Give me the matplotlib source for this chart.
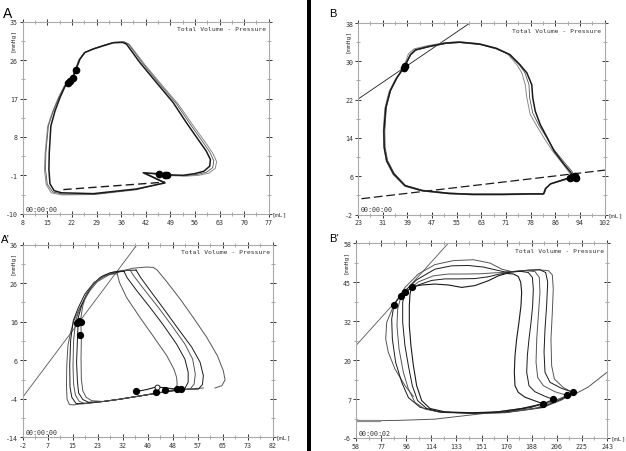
import numpy as np
import matplotlib
matplotlib.use('Agg')
import matplotlib.pyplot as plt
from matplotlib.patches import Rectangle

# ================= DATA =================
# ---- Panel A ----
a_xlim = (8, 77)
a_ylim = (-10, 35)
a_xticklabels = ['8', '15', '22', '29', '36', '42', '49', '56', '63', '70', '77']
a_yticklabels = ['-10', '-1', '8', '17', '26', '35']
a_stamp = '00:00:00'
a_loop1_v = [22.9, 24.05, 25.45, 27.8, 30.6, 33.4, 36.0, 37.1, 40.85, 45.5,
             50.2, 53.9, 57.2, 59.5, 60.65, 60.45, 58.8, 56.3, 53.0, 49.3,
             48.05, 46.3, 41.8, 47.9, 39.9, 27.8, 18.9, 16.8, 15.65, 15.35,
             15.45, 15.9, 17.05, 18.45, 19.85, 20.8, 22.0, 22.9]
a_loop1_p = [23.7, 26.2, 27.8, 28.6, 29.35, 30.06, 30.15, 29.75, 25.45, 20.75,
             16.05, 11.35, 7.4, 4.65, 2.7, 1.13, -0.05, -0.6, -1.0, -0.9,
             -0.9, -0.65, -0.4, -2.8, -4.2, -5.3, -5.1, -4.6, -3.0, 0.35,
             4.3, 10.55, 14.05, 17.2, 19.8, 20.9, 21.75, 23.7]
a_loop2_v = [22.5, 23.7, 25.2, 27.8, 30.7, 33.6, 36.4, 37.6, 41.5, 46.2,
             51.0, 54.8, 58.2, 60.5, 61.6, 61.3, 59.5, 56.8, 53.3, 49.5,
             47.8, 46.0, 42.3, 47.9, 39.9, 28.5, 19.2, 16.4, 14.9, 14.4,
             14.5, 15.2, 16.6, 18.2, 19.7, 20.8, 21.8, 22.5]
a_loop2_p = [23.2, 26.0, 27.7, 28.7, 29.5, 30.2, 30.3, 29.8, 25.4, 20.6,
             15.9, 11.2, 7.2, 4.4, 2.4, 0.8, -0.3, -0.8, -1.1, -1.0,
             -0.9, -0.7, -0.5, -2.7, -4.3, -5.4, -5.4, -4.9, -3.1, 0.4,
             4.3, 10.5, 14.1, 17.3, 19.9, 21.0, 21.7, 23.2]
a_loop3_v = [22.7, 23.9, 25.3, 27.8, 30.6, 33.5, 36.6, 38.0, 42.1, 46.9,
             51.7, 55.6, 59.0, 61.3, 62.4, 62.0, 60.2, 57.4, 53.8, 49.8,
             47.9, 46.2, 42.6, 47.9, 39.9, 28.2, 19.0, 16.0, 14.6, 14.1,
             14.3, 15.0, 16.4, 18.0, 19.6, 20.7, 21.9, 22.7]
a_loop3_p = [23.4, 26.1, 27.7, 28.6, 29.4, 30.1, 30.2, 29.6, 25.1, 20.3,
             15.6, 10.9, 7.0, 4.2, 2.2, 0.6, -0.5, -1.0, -1.2, -1.1,
             -1.0, -0.8, -0.5, -2.7, -4.4, -5.5, -5.6, -5.1, -3.2, 0.4,
             4.3, 10.5, 14.0, 17.2, 19.8, 20.9, 21.8, 23.4]
a_dash_v = [19.4, 47.9]
a_dash_p = [-4.35, -2.6]
a_dots_v = [22.9, 22.2, 21.3, 20.8, 46.3, 48.05, 48.6]
a_dots_p = [23.7, 21.8, 21.0, 20.7, -0.65, -0.9, -0.95]

# ---- Panel B ----
b_xlim = (23, 102)
b_ylim = (-2, 38)
b_xticklabels = ['23', '31', '39', '47', '55', '63', '71', '78', '86', '94', '102']
b_yticklabels = ['-2', '6', '14', '22', '30', '38']
b_stamp = '00:00:00'
b_loop1_v = [91.7, 91.2, 89.0, 85.8, 83.6, 81.4, 79.8, 79.0, 78.7, 77.1, 74.9, 71.7,
             67.4, 62.0, 55.5, 51.1, 45.7, 41.4, 39.8, 37.9, 35.4, 33.3, 31.9, 31.3,
             31.4, 32.2, 34.4, 38.1, 43.5, 52.2, 59.8, 69.5, 78.2, 82.5, 83.1, 84.7,
             89.0, 91.7]
b_loop1_p = [5.8, 6.8, 8.5, 11.3, 14.1, 16.8, 19.6, 22.4, 25.1, 27.6, 29.3, 31.4,
             32.7, 33.6, 34.0, 33.8, 33.1, 32.4, 31.4, 28.9, 26.5, 23.8, 20.3, 15.5,
             12.0, 9.2, 6.5, 4.0, 3.0, 2.4, 2.2, 2.2, 2.3, 2.3, 3.4, 4.4,
             5.3, 5.8]
b_loop2_v = [91.5, 90.8, 88.6, 85.2, 82.5, 80.3, 78.2, 77.1, 76.6, 75.5, 73.9, 71.0,
             67.0, 61.8, 55.4, 51.0, 45.5, 41.0, 39.2, 37.6, 35.0, 32.9, 31.6, 31.1,
             31.3, 32.1, 34.3, 38.0, 43.5, 52.2, 59.8, 69.5, 78.0, 82.3, 82.9, 84.5,
             88.8, 91.5]
b_loop2_p = [5.6, 6.7, 8.6, 11.4, 14.1, 16.5, 18.9, 22.4, 25.1, 27.6, 29.3, 31.5,
             32.8, 33.7, 34.1, 33.9, 33.3, 32.6, 31.6, 28.7, 26.3, 23.6, 20.2, 15.5,
             12.0, 9.1, 6.3, 3.9, 2.9, 2.3, 2.1, 2.1, 2.2, 2.2, 3.3, 4.3,
             5.1, 5.6]
b_loop3_v = [92.3, 91.6, 89.4, 86.0, 83.4, 81.0, 79.0, 78.0, 77.8, 76.5, 74.5, 71.4,
             67.2, 62.0, 55.6, 51.2, 45.8, 41.6, 39.9, 38.1, 35.6, 33.5, 32.1, 31.6,
             31.7, 32.5, 34.6, 38.2, 43.6, 52.2, 59.8, 69.5, 78.3, 82.7, 83.3, 84.9,
             89.3, 92.3]
b_loop3_p = [6.0, 7.0, 8.7, 11.4, 14.1, 16.6, 19.2, 22.4, 25.1, 27.6, 29.4, 31.4,
             32.6, 33.5, 33.9, 33.7, 33.0, 32.3, 31.3, 29.0, 26.6, 23.9, 20.4, 15.5,
             12.0, 9.3, 6.6, 4.1, 3.1, 2.5, 2.3, 2.3, 2.4, 2.4, 3.5, 4.5,
             5.4, 6.0]
b_espvr_v = [23, 60]
b_espvr_p = [22.1, 38.5]
b_edpvr_v = [24.1, 102.5]
b_edpvr_p = [1.3, 7.3]
b_dots_v = [37.6, 38.0, 91.0, 91.7, 92.4, 92.9]
b_dots_p = [28.7, 29.0, 5.6, 5.8, 6.0, 5.7]

# ---- Panel A' ----
c_xlim = (-2, 82)
c_ylim = (-14, 36)
c_xticklabels = ['-2', '7', '15', '23', '32', '40', '48', '57', '65', '73', '82']
c_yticklabels = ['-14', '-4', '6', '16', '26', '36']
c_stamp = '00:00:00'
c_loop1_v = [29.8, 30.5, 32.9, 37.4, 41.9, 46.4, 48.8, 49.7, 49.9, 49.5, 41.9, 36.3, 30.7, 25.1,
             21.2, 19.3, 18.2, 17.7, 17.6, 17.7, 17.5, 18.2, 19.5, 21.7, 24.5, 27.3, 29.8]
c_loop1_p = [28.4, 26.2, 22.3, 17.1, 12.2, 7.2, 3.7, 1.6, -0.2, -1.5, -2.7, -3.4, -4.1, -4.7,
             -4.5, -3.6, -1.9, 1.1, 6.3, 11.5, 16.7, 20.2, 23.2, 25.8, 27.5, 28.4, 28.4]
c_loop2_v = [32.0, 33.2, 36.3, 40.8, 45.2, 49.7, 52.5, 53.6, 53.6, 52.5, 47.5, 41.9, 36.3, 30.7, 25.1,
             20.1, 18.2, 16.8, 16.4, 16.1, 16.4, 16.7, 17.8, 19.2, 21.2, 24.0, 27.3, 30.1, 32.0]
c_loop2_p = [29.1, 27.3, 24.1, 19.7, 15.2, 10.2, 6.3, 2.9, 0.3, -1.3, -2.0, -2.7, -3.4, -4.1, -4.7,
             -4.9, -4.2, -2.5, 0.3, 5.5, 11.5, 17.2, 20.2, 22.6, 25.2, 27.5, 28.7, 29.1, 29.1]
c_loop3_v = [34.1, 35.4, 39.1, 43.6, 48.1, 52.5, 55.1, 56.0, 55.6, 54.2, 47.5, 41.9, 36.3, 30.7, 25.1,
             18.9, 17.0, 15.7, 15.1, 14.9, 15.1, 15.8, 17.3, 19.3, 22.0, 25.1, 28.5, 31.8, 34.1]
c_loop3_p = [29.4, 27.8, 24.1, 19.7, 15.0, 10.2, 6.3, 2.4, -0.2, -1.5, -2.0, -2.7, -3.4, -4.1, -4.7,
             -5.2, -4.7, -3.0, -0.2, 4.6, 11.1, 16.3, 19.7, 22.9, 26.1, 28.0, 28.9, 29.3, 29.4]
c_loop4_v = [36.1, 37.6, 41.3, 45.8, 50.3, 54.8, 57.6, 58.7, 58.4, 57.0, 53.1, 47.5, 41.9, 36.3, 30.7,
             25.1, 18.4, 15.9, 14.5, 13.9, 13.8, 14.1, 15.0, 16.7, 18.9, 22.0, 25.6, 29.6, 32.9, 36.1]
c_loop4_p = [29.4, 27.5, 23.6, 18.9, 14.1, 9.4, 5.5, 2.0, -0.3, -1.5, -1.5, -2.0, -2.7, -3.4, -4.1,
             -4.7, -5.3, -5.2, -3.6, -1.0, 4.6, 11.1, 16.3, 19.7, 23.2, 26.2, 28.0, 28.8, 29.3, 29.4]
c_loop5_v = [58.7, 53.1, 47.5, 41.9, 36.3, 30.7, 25.1, 19.5, 15.0, 13.7, 12.9, 12.7, 12.8, 13.2, 14.1,
             15.2, 17.0, 18.9, 20.6, 23.1, 26.8, 30.7, 35.2, 39.7, 41.9, 43.2, 46.4, 50.9, 55.3, 59.8,
             63.4, 65.4, 66.0, 64.9, 62.6]
c_loop5_p = [-1.2, -1.5, -2.0, -2.7, -3.4, -4.1, -4.7, -5.1, -5.6, -5.5, -4.1, -0.6, 4.6, 9.8, 13.3,
             16.3, 19.3, 21.9, 24.1, 26.4, 28.1, 29.1, 29.9, 30.2, 30.1, 29.4, 26.4, 21.9, 17.1, 12.0,
             7.2, 3.3, 0.9, -0.6, -1.2]
c_hook_v = [36.1, 39.7, 43.0, 46.4, 49.7]
c_hook_p = [-2.1, -1.6, -0.9, -1.2, -1.5]
c_espvr_v = [-2, 37]
c_espvr_p = [-3.6, 36.6]
c_dots_v = [16.1, 17.0, 17.5, 17.3, 36.1, 42.8, 45.8, 49.7, 51.1]
c_dots_p = [15.8, 16.3, 16.0, 12.6, -2.1, -2.3, -1.6, -1.5, -1.5]
c_open_v = [43.0]
c_open_p = [-0.9]

# ---- Panel B' ----
d_xlim = (58, 243)
d_ylim = (-6, 58)
d_xticklabels = ['58', '77', '96', '114', '133', '151', '170', '188', '206', '225', '243']
d_yticklabels = ['-6', '7', '20', '32', '45', '58']
d_stamp = '00:00:02'
d_loop1_v = [195.6, 189.9, 182.6, 177.6, 175.2, 174.7, 175.2, 176.4, 178.1, 179.6,
             180.1, 179.4, 177.6, 174.0, 169.1, 162.9, 155.5, 145.7, 135.9, 126.1,
             116.2, 106.4, 99.0, 97.8, 97.3, 97.3, 98.5, 100.3, 102.7, 106.4,
             112.5, 123.6, 143.3, 162.9, 180.1, 189.9, 195.6]
d_loop1_p = [5.3, 6.2, 7.4, 9.0, 11.2, 15.6, 21.1, 26.5, 32.0, 37.5,
             41.9, 45.2, 47.1, 47.9, 48.1, 47.3, 45.7, 44.1, 43.5, 44.3,
             44.6, 44.3, 43.7, 41.3, 37.5, 30.9, 24.3, 17.8, 11.2, 6.3,
             3.7, 2.6, 2.3, 2.6, 3.7, 4.6, 5.3]
d_loop2_v = [203.4, 197.3, 189.9, 185.5, 183.8, 184.3, 185.5, 187.0, 188.2, 188.7,
             188.0, 185.0, 178.9, 170.3, 162.9, 155.5, 145.7, 133.4, 123.6, 113.8,
             103.9, 94.1, 92.4, 92.4, 94.1, 96.6, 99.5, 103.4, 110.1, 121.1,
             143.3, 167.8, 187.5, 197.3, 203.4]
d_loop2_p = [6.7, 7.7, 9.2, 11.2, 15.6, 21.1, 26.5, 32.0, 37.5, 43.0,
             46.8, 48.4, 48.8, 48.4, 47.8, 47.0, 46.4, 46.3, 46.3, 45.8,
             44.3, 42.1, 38.6, 32.0, 24.3, 17.8, 11.2, 6.3, 3.7, 2.5,
             2.2, 2.6, 4.1, 5.5, 6.7]
d_loop3_v = [213.5, 204.7, 196.1, 191.9, 190.7, 191.2, 192.4, 193.6, 193.1, 189.9,
             183.8, 175.2, 167.8, 160.4, 150.6, 138.3, 126.1, 115.0, 103.9, 91.2,
             88.7, 88.2, 89.7, 92.9, 96.6, 101.5, 108.9, 121.1, 143.3, 167.8,
             189.9, 204.7, 213.5]
d_loop3_p = [8.0, 9.2, 11.2, 13.9, 18.9, 26.5, 34.2, 41.9, 46.8, 48.7,
             49.0, 48.8, 48.4, 48.3, 48.0, 47.9, 47.9, 47.3, 45.3, 40.6,
             36.4, 30.9, 23.3, 15.6, 10.1, 5.7, 3.5, 2.4, 2.1, 2.4,
             3.7, 6.3, 8.0]
d_loop4_v = [218.2, 209.6, 201.0, 197.3, 196.6, 197.3, 198.5, 199.3, 197.8, 193.6,
             185.0, 175.2, 167.8, 160.4, 151.8, 140.8, 128.5, 116.2, 102.7, 91.7,
             86.0, 84.3, 84.8, 87.2, 91.7, 96.6, 105.2, 118.7, 143.3, 167.8,
             194.9, 209.6, 218.2]
d_loop4_p = [9.0, 10.3, 12.3, 15.6, 22.2, 29.8, 37.5, 45.2, 48.4, 49.3,
             49.2, 48.7, 48.6, 49.3, 50.2, 50.7, 50.6, 49.5, 46.0, 41.3,
             37.8, 33.1, 26.5, 18.9, 12.3, 7.3, 4.1, 2.6, 2.1, 2.4,
             4.1, 6.8, 9.0]
d_loop5_v = [143.3, 167.8, 194.9, 209.6, 218.2, 210.8, 204.2, 202.2, 201.7, 202.7,
             203.4, 202.7, 199.8, 192.4, 182.6, 172.7, 165.4, 156.8, 144.5, 129.7,
             116.2, 103.9, 94.1, 86.0, 80.6, 79.9, 81.8, 86.7, 94.1, 100.3]
d_loop5_p = [2.1, 2.3, 3.9, 6.5, 8.8, 10.6, 13.4, 17.8, 26.5, 35.3,
             43.0, 47.6, 49.0, 49.3, 49.0, 48.7, 49.5, 51.5, 52.6, 52.3,
             51.0, 47.9, 43.5, 37.8, 32.0, 26.5, 22.2, 16.7, 11.2, 7.7]
d_espvr_v = [58, 128]
d_espvr_p = [24.4, 59.0]
d_edpvr_v = [58, 76, 90, 116, 155, 180, 195, 217, 229, 243]
d_edpvr_p = [-0.3, -0.3, -0.2, 0.2, 2.2, 3.7, 5.2, 7.9, 10.7, 15.6]
d_dots_v = [86.0, 91.2, 94.1, 99.0, 195.6, 203.4, 213.5, 218.2]
d_dots_p = [37.8, 40.6, 42.1, 43.7, 5.3, 6.7, 8.0, 9.0]

# ================= FIGURE =================
W, H = 626, 452
fig = plt.figure(figsize=(W / 100, H / 100), dpi=100)
fig.patch.set_facecolor('white')

MONO = 'DejaVu Sans Mono'


def make_axes(l, r, t, b):
    return fig.add_axes([l / W, 1 - b / H, (r - l) / W, (b - t) / H])


def setup(ax, xlim, ylim, xlabels, ylabels, stamp):
    ax.set_xlim(*xlim)
    ax.set_ylim(*ylim)
    xt = np.linspace(xlim[0], xlim[1], len(xlabels))
    yt = np.linspace(ylim[0], ylim[1], len(ylabels))
    ax.set_xticks(xt)
    ax.set_xticklabels(xlabels, family=MONO, fontsize=4.8, color='#333333')
    ax.set_yticks(yt)
    ax.set_yticklabels(ylabels, family=MONO, fontsize=4.8, color='#333333')
    ax.set_xticks((xt[:-1] + xt[1:]) / 2, minor=True)
    ax.set_yticks((yt[:-1] + yt[1:]) / 2, minor=True)
    ax.tick_params(which='major', direction='inout', length=4, width=0.7,
                   color='#333333', top=True, right=True, pad=1.5)
    ax.tick_params(which='minor', direction='inout', length=3, width=0.6,
                   color='#999999', top=True, right=True)
    for s in ax.spines.values():
        s.set_color('#aaaaaa')
        s.set_linewidth(0.8)
    ax.annotate('Total Volume - Pressure', xy=(1, 1), xycoords='axes fraction',
                xytext=(-3, -7), textcoords='offset pixels', ha='right', va='center',
                family=MONO, fontsize=4.6, color='#333333')
    ax.annotate(stamp, xy=(0, 0), xycoords='axes fraction',
                xytext=(3, 2), textcoords='offset pixels', ha='left', va='bottom',
                family=MONO, fontsize=4.8, color='#333333')
    ax.annotate('[mL]', xy=(1, 0), xycoords='axes fraction',
                xytext=(3, 0), textcoords='offset pixels', ha='left', va='center',
                family=MONO, fontsize=4.6, color='#333333')
    ax.annotate('[mmHg]', xy=(0, 1), xycoords='axes fraction',
                xytext=(-10, -6), textcoords='offset pixels', ha='center', va='top',
                rotation=90, family=MONO, fontsize=4.6, color='#333333')


DARK = '#1a1a1a'
GRAY = '#8a8a8a'
MID = '#555555'

# ---- Panel A ----
axA = make_axes(22.7, 268.7, 22.7, 214.7)
setup(axA, a_xlim, a_ylim, a_xticklabels, a_yticklabels, a_stamp)
axA.plot(a_loop3_v, a_loop3_p, color=GRAY, lw=0.7)
axA.plot(a_loop2_v, a_loop2_p, color=MID, lw=0.6)
axA.plot(a_loop1_v, a_loop1_p, color=DARK, lw=1.1)
axA.plot(a_dash_v, a_dash_p, color=DARK, lw=1.0, dashes=(6, 3))
axA.plot(a_dots_v, a_dots_p, 'o', color='black', ms=4.5, mec='black')

# ---- Panel B ----
axB = make_axes(358, 604.5, 24, 215.5)
setup(axB, b_xlim, b_ylim, b_xticklabels, b_yticklabels, b_stamp)
axB.plot(b_espvr_v, b_espvr_p, color=DARK, lw=0.6)
axB.plot(b_edpvr_v, b_edpvr_p, color=DARK, lw=0.9, dashes=(7, 3))
axB.plot(b_loop2_v, b_loop2_p, color=GRAY, lw=0.7)
axB.plot(b_loop3_v, b_loop3_p, color=MID, lw=0.6)
axB.plot(b_loop1_v, b_loop1_p, color=DARK, lw=1.1)
axB.plot(b_dots_v, b_dots_p, 'o', color='black', ms=4.5, mec='black')

# ---- Panel A' ----
axC = make_axes(22.7, 272.7, 245.7, 438.3)
setup(axC, c_xlim, c_ylim, c_xticklabels, c_yticklabels, c_stamp)
axC.plot(c_espvr_v, c_espvr_p, color=MID, lw=0.6)
axC.plot(c_loop5_v, c_loop5_p, color=MID, lw=0.7)
axC.plot(c_loop4_v, c_loop4_p, color=DARK, lw=0.7)
axC.plot(c_loop3_v, c_loop3_p, color=MID, lw=0.7)
axC.plot(c_loop2_v, c_loop2_p, color=DARK, lw=0.7)
axC.plot(c_loop1_v, c_loop1_p, color=MID, lw=0.7)
axC.plot(c_hook_v, c_hook_p, color=DARK, lw=0.8)
axC.plot(c_dots_v, c_dots_p, 'o', color='black', ms=4.2, mec='black')
axC.plot(c_open_v, c_open_p, 'o', color='white', ms=3.5, mec='black', mew=0.6)

# ---- Panel B' ----
axD = make_axes(356, 607, 244.3, 439)
setup(axD, d_xlim, d_ylim, d_xticklabels, d_yticklabels, d_stamp)
axD.plot(d_espvr_v, d_espvr_p, color=MID, lw=0.6)
axD.plot(d_edpvr_v, d_edpvr_p, color=MID, lw=0.7)
axD.plot(d_edpvr_v[:2], d_edpvr_p[:2], color=GRAY, lw=1.6)
axD.plot(d_loop5_v, d_loop5_p, color=MID, lw=0.7)
axD.plot(d_loop4_v, d_loop4_p, color=DARK, lw=0.7)
axD.plot(d_loop3_v, d_loop3_p, color=MID, lw=0.7)
axD.plot(d_loop2_v, d_loop2_p, color=DARK, lw=0.7)
axD.plot(d_loop1_v, d_loop1_p, color=DARK, lw=0.8)
axD.plot(d_dots_v, d_dots_p, 'o', color='black', ms=4.2, mec='black')

# ---- panel letters and divider ----
LET = ['Liberation Sans', 'DejaVu Sans']
fig.text(2.7 / W, 1 - 18.3 / H, 'A', family=LET, fontsize=10, ha='left', va='baseline')
fig.text(329 / W, 1 - 16.7 / H, 'B', family=LET, fontsize=8, ha='left', va='baseline')
fig.text(0.5 / W, 1 - 243.3 / H, 'A\u2019', family=LET, fontsize=8, ha='left', va='baseline')
fig.text(329 / W, 1 - 241.7 / H, 'B\u2019', family=LET, fontsize=8, ha='left', va='baseline')
fig.patches.append(Rectangle((306.5 / W, 0), 4.5 / W, 1, transform=fig.transFigure,
                             facecolor='black', edgecolor='none'))

fig.savefig('out.png', dpi=100, facecolor='white')
